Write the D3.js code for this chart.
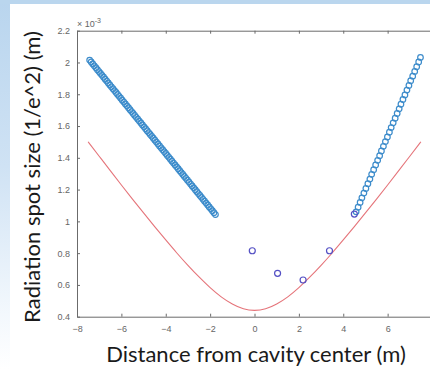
<!DOCTYPE html>
<html>
<head>
<meta charset="utf-8">
<script src="https://cdn.jsdelivr.net/npm/d3@7/dist/d3.min.js"></script>
<style>
  html, body { margin: 0; padding: 0; background: #fff; }
  svg { display: block; }
</style>
</head>
<body>
<svg id="chart" width="430" height="369"></svg>
<script>
// Beam radius along the cavity axis (values in units of 1e-3 m)
const leftX = [-7.43,-7.36,-7.29,-7.22,-7.15,-7.08,-7.01,-6.94,-6.87,-6.80,
  -6.73,-6.66,-6.59,-6.52,-6.45,-6.38,-6.31,-6.24,-6.17,-6.10,
  -6.03,-5.96,-5.89,-5.82,-5.75,-5.68,-5.61,-5.54,-5.47,-5.40,
  -5.33,-5.26,-5.19,-5.12,-5.05,-4.98,-4.91,-4.84,-4.77,-4.70,
  -4.63,-4.56,-4.49,-4.42,-4.35,-4.28,-4.21,-4.14,-4.07,-4.00,
  -3.93,-3.86,-3.79,-3.72,-3.65,-3.58,-3.51,-3.44,-3.37,-3.30,
  -3.23,-3.16,-3.09,-3.02,-2.95,-2.88,-2.81,-2.74,-2.67,-2.60,
  -2.53,-2.46,-2.39,-2.32,-2.25,-2.18,-2.11,-2.04,-1.97,-1.90,
  -1.83,-1.76];
const leftY = [2.015,2.003,1.991,1.979,1.967,1.955,1.943,1.931,1.919,1.907,
  1.895,1.883,1.871,1.859,1.847,1.835,1.823,1.811,1.799,1.787,
  1.775,1.763,1.751,1.739,1.727,1.715,1.703,1.691,1.679,1.667,
  1.655,1.643,1.631,1.619,1.607,1.595,1.583,1.571,1.559,1.547,
  1.535,1.523,1.511,1.499,1.487,1.475,1.463,1.451,1.439,1.427,
  1.415,1.403,1.391,1.379,1.367,1.355,1.343,1.331,1.319,1.307,
  1.295,1.283,1.271,1.259,1.247,1.235,1.223,1.211,1.199,1.187,
  1.175,1.163,1.151,1.139,1.127,1.115,1.103,1.091,1.079,1.067,
  1.055,1.043];

const rightX = [4.58,4.67,4.76,4.84,4.93,5.02,5.11,5.20,5.28,5.37,
  5.46,5.55,5.64,5.72,5.81,5.90,5.99,6.08,6.16,6.25,
  6.34,6.43,6.52,6.60,6.69,6.78,6.87,6.96,7.04,7.13,
  7.22,7.31,7.40,7.48];
const rightY = [1.060,1.089,1.119,1.148,1.178,1.207,1.237,1.266,1.296,1.325,
  1.355,1.384,1.413,1.443,1.472,1.502,1.531,1.561,1.590,1.620,
  1.649,1.679,1.708,1.737,1.767,1.796,1.826,1.855,1.885,1.914,
  1.944,1.973,2.003,2.032];

const midX = [-0.10, 1.04, 2.19, 3.38, 4.50];
const midY = [0.815, 0.673, 0.631, 0.815, 1.046];

// Gaussian-beam model radius
const modelX = [-7.5,-7,-6.5,-6,-5.5,-5,-4.5,-4,-3.5,-3,-2.5,-2,-1.5,-1,-0.5,0,
  0.5,1,1.5,2,2.5,3,3.5,4,4.5,5,5.5,6,6.5,7,7.5];
const modelY = [1.501,1.410,1.319,1.229,1.140,1.053,0.967,0.883,0.801,0.723,0.650,0.583,0.525,0.480,0.450,0.440,
  0.450,0.480,0.525,0.583,0.650,0.723,0.801,0.883,0.967,1.053,1.140,1.229,1.319,1.410,1.501];

// the x = 8 tick sits on the frame's right edge, outside the view
const xTicks = [-8,-6,-4,-2,0,2,4,6];
const yTicks = [0.4,0.6,0.8,1,1.2,1.4,1.6,1.8,2,2.2];

const svg = d3.select("#chart");
const W = 430, H = 369;

// slide backdrop
const defs = svg.append("defs");
const grad = defs.append("linearGradient").attr("id", "sideFade")
  .attr("x1", 0).attr("y1", 0).attr("x2", 0).attr("y2", 1);
grad.append("stop").attr("offset", "0%").attr("stop-color", "#b9d5ee");
grad.append("stop").attr("offset", "45%").attr("stop-color", "#cfe2f4");
grad.append("stop").attr("offset", "85%").attr("stop-color", "#f3f8fd");
grad.append("stop").attr("offset", "100%").attr("stop-color", "#ffffff");
svg.append("rect").attr("width", W).attr("height", H).attr("fill", "url(#sideFade)");
svg.append("rect").attr("x", 0).attr("y", 0).attr("width", W).attr("height", 4).attr("fill", "#bad6ee");
svg.append("rect").attr("x", 10).attr("y", 4).attr("width", W - 10).attr("height", H - 4).attr("fill", "#ffffff");

const plotL = 77, plotT = 30.7, plotB = 316.7, plotR = 432;
const x = d3.scaleLinear().domain([-8, 8]).range([plotL, plotR]);
const y = d3.scaleLinear().domain([0.4, 2.2]).range([plotB, plotT]);

const axisColor = "#6b6b6b";
const tickFont = "'Liberation Sans', Arial, sans-serif";

// axes, ticks pointing inward
const gx = svg.append("g").attr("transform", `translate(0,${plotB})`)
  .call(d3.axisBottom(x).tickValues(xTicks).tickSizeInner(-3).tickSizeOuter(0).tickPadding(9)
    .tickFormat(d3.format("d")));
const gxTop = svg.append("g").attr("transform", `translate(0,${plotT})`)
  .call(d3.axisTop(x).tickValues(xTicks).tickSizeInner(-3).tickSizeOuter(0).tickFormat(""));
const gy = svg.append("g").attr("transform", `translate(${plotL},0)`)
  .call(d3.axisLeft(y).tickValues(yTicks).tickSizeInner(-3).tickSizeOuter(0).tickPadding(7)
    .tickFormat(d => d3.format("~g")(d)));
[gx, gxTop, gy].forEach(g => {
  g.select(".domain").attr("stroke", axisColor).attr("stroke-width", 1);
  g.selectAll(".tick line").attr("stroke", axisColor);
  g.selectAll(".tick text").attr("fill", "#666").style("font-family", tickFont).style("font-size", "9px");
});

// exponent marker
const expo = svg.append("text").attr("x", 77).attr("y", 27)
  .style("font-family", tickFont).style("font-size", "9px").attr("fill", "#666");
expo.append("tspan").text("\u00d7 10");
expo.append("tspan").attr("dy", -4).style("font-size", "7px").text("-3");

// model curve
const line = d3.line().x(d => x(d[0])).y(d => y(d[1])).curve(d3.curveNatural);
svg.append("path").datum(modelX.map((v, i) => [v, modelY[i]]))
  .attr("d", line).attr("fill", "none").attr("stroke", "#e5747a").attr("stroke-width", 1.1);

// measured radius
const blue = "#3d8ccb";
svg.append("g").selectAll("circle").data(leftX.map((v, i) => [v, leftY[i]])).join("circle")
  .attr("cx", d => x(d[0])).attr("cy", d => y(d[1])).attr("r", 2.8)
  .attr("fill", "none").attr("stroke", blue).attr("stroke-width", 1.2);
svg.append("g").selectAll("circle").data(rightX.map((v, i) => [v, rightY[i]])).join("circle")
  .attr("cx", d => x(d[0])).attr("cy", d => y(d[1])).attr("r", 2.8)
  .attr("fill", "none").attr("stroke", blue).attr("stroke-width", 1.2);
svg.append("g").selectAll("circle").data(midX.map((v, i) => [v, midY[i]])).join("circle")
  .attr("cx", d => x(d[0])).attr("cy", d => y(d[1])).attr("r", 3)
  .attr("fill", "none").attr("stroke", "#5450c4").attr("stroke-width", 1.2);

// axis titles
const titleFont = "Lato, Carlito, Calibri, sans-serif";
svg.append("text").attr("x", 256).attr("y", 362).attr("text-anchor", "middle")
  .style("font-family", titleFont).style("font-size", "22px").attr("fill", "#1a1a1a")
  .text("Distance from cavity center (m)");
svg.append("text").attr("transform", "translate(40,177) rotate(-90)").attr("text-anchor", "middle")
  .style("font-family", titleFont).style("font-size", "22px").attr("fill", "#1a1a1a")
  .text("Radiation spot size (1/e^2) (m)");
</script>
</body>
</html>
